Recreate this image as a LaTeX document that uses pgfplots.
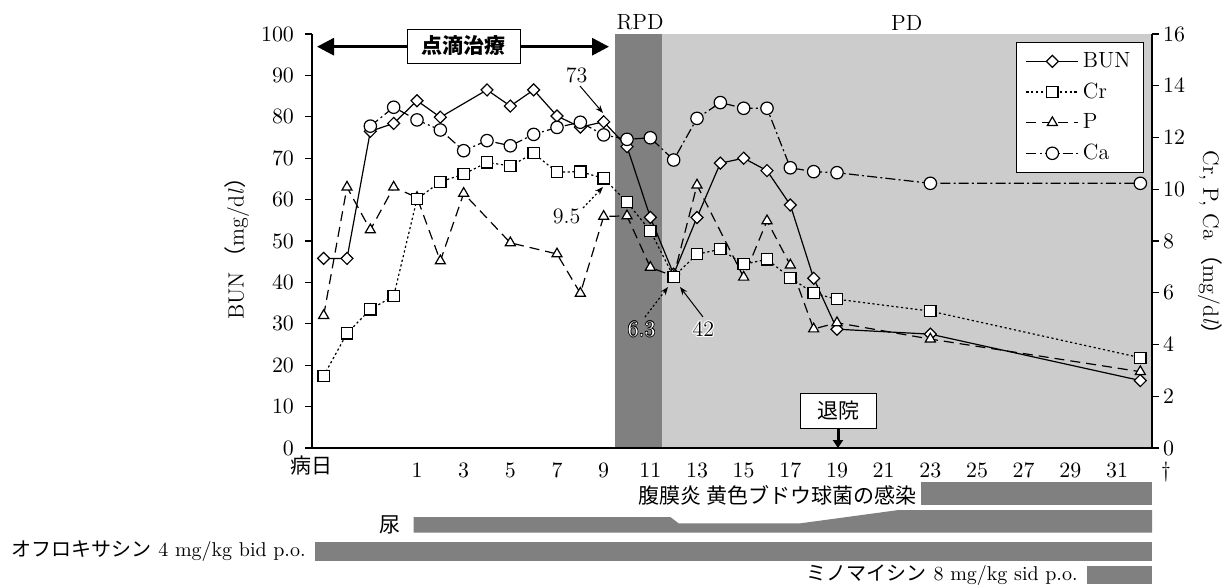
\documentclass[border=0pt]{standalone}
\usepackage{fontspec}
\usepackage{pgfplots}
\pgfplotsset{compat=1.18}
\usetikzlibrary{arrows.meta}
\newfontfamily\jp{Noto Sans CJK JP}
\newcommand\fs{\fontsize{11}{13.2}\selectfont}
\newcommand\fj{\fontsize{10.5}{12.6}\selectfont}
\newcommand\fk{\fontsize{10}{12}\selectfont}
\definecolor{dkgray}{RGB}{128,128,128}
\definecolor{ltgray}{RGB}{204,204,204}
\pgfplotsset{
  bunstyle/.style={black, line width=0.6pt, solid, mark=diamond*, mark size=3pt, mark options={fill=white, solid, line width=0.6pt, xscale=1.33}},
  crstyle/.style={black, line width=0.6pt, dash pattern=on 1.1pt off 1.3pt, mark=square*, mark size=2.8pt, mark options={fill=white, solid, line width=0.6pt}},
  pstyle/.style={black, line width=0.6pt, dash pattern=on 5pt off 3pt, mark=triangle*, mark size=2.9pt, mark options={fill=white, solid, line width=0.6pt}},
  castyle/.style={black, line width=0.6pt, dash pattern=on 5pt off 1.6pt on 1pt off 1.6pt, mark=*, mark size=3.1pt, mark options={fill=white, solid, line width=0.6pt}},
  base/.style={at={(156pt,-224pt)}, anchor=south west, scale only axis, width=420pt, height=207pt,
    xmin=-3.5, xmax=32.5, tick align=outside, major tick length=3.5pt,
    tick label style={font=\fs}, axis line style={line width=0.65pt, -},
    tick style={line width=0.65pt, black}},
}
\newcommand\halo[5]{% position, halo colour, text colour, offset, text
  \foreach \dx/\dy in {1/0,-1/0,0/1,0/-1,0.7/0.7,-0.7/0.7,0.7/-0.7,-0.7/-0.7}
    {\node[text=#2, font=\fs, xshift=#4*\dx pt, yshift=#4*\dy pt] at (#1) {#5};}
  \node[text=#3, font=\fs] at (#1) {#5};}
\begin{document}
\begin{tikzpicture}
\path[use as bounding box] (0,0) rectangle (613pt,-292.5pt);
% ---------- left axis: BUN ----------
\begin{axis}[base, ymin=0, ymax=100,
  axis x line*=bottom, axis y line*=left, axis on top, clip=false,
  xtick={1,3,...,31}, xtick style={draw=none},
  ytick={0,10,...,100},
  xticklabel style={yshift=-0.5pt}, yticklabel style={xshift=-2pt},
  ylabel={BUN\,{\jp （}mg/d\textit{l}{\jp ）}},
  ylabel style={font=\fs, at={(axis description cs:-0.0893,0.495)}, anchor=center},
]
\fill[dkgray] (axis cs:9.5,0) rectangle (axis cs:11.5,100);
\fill[ltgray] (axis cs:11.5,0) rectangle (axis cs:32.5,100);
% timeline bars under the chart
\fill[dkgray] (axis cs:22.62,-8.29) rectangle (axis cs:32.5,-13.77);
\fill[dkgray] (axis cs:0.85,-16.67) -- (axis cs:11.86,-16.67) -- (axis cs:12.21,-18.19) -- (axis cs:17.43,-18.19) -- (axis cs:21.64,-14.98) -- (axis cs:32.5,-14.98) -- (axis cs:32.5,-20.41) -- (axis cs:0.85,-20.41) -- cycle;
\fill[dkgray] (axis cs:-3.36,-22.78) rectangle (axis cs:32.5,-27.29);
\fill[dkgray] (axis cs:29.73,-28.43) rectangle (axis cs:32.5,-32.85);
\addplot[bunstyle] coordinates {(-3,45.8) (-2,45.8) (-1,76.5) (0,78.4) (1,83.9) (2,79.9) (4,86.5) (5,82.6) (6,86.5) (7,80.2) (8,77.5) (9,78.8) (10,72.8) (11,55.7) (12,42.0) (13,55.7) (14,68.8) (15,70.0) (16,67.0) (17,58.7) (18,41.0) (19,28.7) (23,27.5) (32,16.3)};
\end{axis}
% ---------- right axis: Cr, P, Ca ----------
\begin{axis}[base, ymin=0, ymax=16,
  axis x line=none, axis y line*=right, clip=false,
  ytick={0,2,...,16}, yticklabel style={xshift=-1.5pt},
  ylabel={Cr, P, Ca\,{\jp （}mg/d\textit{l}{\jp ）}},
  ylabel style={font=\fs, at={(axis description cs:1.069,0.483)}, anchor=center, rotate=180},
  legend style={at={(1,1)}, anchor=north east, xshift=-4pt, yshift=-3.9pt,
    draw=black, line width=0.5pt, fill=white, font=\fs, cells={anchor=west},
    row sep=2.2pt, inner xsep=4.5pt, inner ysep=3pt},
  legend image code/.code={\draw[mark repeat=2,mark phase=2,#1] plot coordinates {(0pt,0pt) (13pt,0pt) (26pt,0pt)};},
]
\addlegendimage{bunstyle}\addlegendentry{BUN}
\addlegendimage{crstyle}\addlegendentry{Cr}
\addlegendimage{pstyle}\addlegendentry{P}
\addlegendimage{castyle}\addlegendentry{Ca}
\addplot[pstyle, forget plot] coordinates {(-3,5.12) (-2,10.08) (-1,8.43) (0,10.08) (1,9.68) (2,7.23) (3,9.84) (5,7.93) (7,7.50) (8,5.98) (9,8.95) (10,8.97) (11,6.98) (12,6.64) (13,10.16) (15,6.60) (16,8.78) (17,7.07) (18,4.60) (19,4.84) (23,4.21) (32,2.95)};
\addplot[crstyle, forget plot] coordinates {(-3,2.79) (-2,4.43) (-1,5.36) (0,5.87) (1,9.62) (2,10.29) (3,10.58) (4,11.04) (5,10.90) (6,11.39) (7,10.66) (8,10.68) (9,10.42) (10,9.50) (11,8.39) (12,6.62) (13,7.49) (14,7.68) (15,7.10) (16,7.29) (17,6.58) (18,5.98) (19,5.75) (23,5.29) (32,3.49)};
\addplot[castyle, forget plot] coordinates {(-1,12.44) (0,13.17) (1,12.68) (2,12.29) (3,11.49) (4,11.88) (5,11.68) (6,12.12) (7,12.39) (8,12.59) (9,12.10) (10,11.93) (11,11.99) (12,11.13) (13,12.74) (14,13.35) (15,13.13) (16,13.13) (17,10.83) (18,10.68) (19,10.64) (23,10.23) (32,10.23)};
\end{axis}
% ---------- annotations (pixel grid: 1px = 0.5pt) ----------
\begin{scope}[x=0.5pt, y=-0.5pt]
\node[font=\fs] at (640,22.7) {RPD};
\node[font=\fs] at (906.7,22.7) {PD};
\draw[line width=1.5pt, {Triangle[length=8.5pt,width=8.5pt]}-{Triangle[length=8.5pt,width=8.5pt]}] (317,46.7) -- (609,46.7);
\node[draw, fill=white, line width=0.5pt, minimum width=56.5pt, minimum height=17pt, inner sep=0pt, font=\jp\bfseries\fj] at (463.5,46) {点滴治療};
\node[draw, fill=white, line width=0.5pt, minimum width=38pt, minimum height=17.5pt, inner sep=0pt, font=\jp\fj] at (838,410.5) {退院};
\draw[line width=1.5pt, -{Triangle[length=4pt,width=5pt]}] (838,428) -- (838,448);
\node[font=\fs] at (576.7,75) {73};
\draw[line width=0.5pt, -{Stealth[length=4pt,width=3pt]}] (580,86) -- (603,113);
\node[font=\fs] at (566.7,216.7) {9.5};
\draw[line width=0.6pt, dash pattern=on 1pt off 1.2pt, -{Stealth[length=4pt,width=3pt]}] (583,208) -- (603,187);
\draw[line width=0.6pt, dash pattern=on 1pt off 1.2pt, -{Stealth[length=4pt,width=3pt]}] (645,317) -- (668,287);
\draw[line width=0.5pt, -{Stealth[length=4pt,width=3pt]}] (703,317) -- (680,287);
\halo{641.7,329.3}{black}{white}{0.35}{6.3}
\halo{703.3,329.3}{white}{black}{0.6}{42}
\node[font=\jp\fj] at (311,466) {病日};
\node[font=\fs] at (1166,472) {†};
\node[font=\fj, anchor=east, inner sep=0pt] at (917,495) {\jp 腹膜炎 黄色ブドウ球菌の感染};
\node[font=\fj, anchor=east, inner sep=0pt] at (401,525) {\jp 尿};
\node[font=\fk, anchor=east, inner sep=0pt] at (306,551) {{\jp オフロキサシン} 4 mg/kg bid p.o.};
\node[font=\fk, anchor=east, inner sep=0pt] at (1078,575) {{\jp ミノマイシン} 8 mg/kg sid p.o.};
\end{scope}
\end{tikzpicture}
\end{document}
